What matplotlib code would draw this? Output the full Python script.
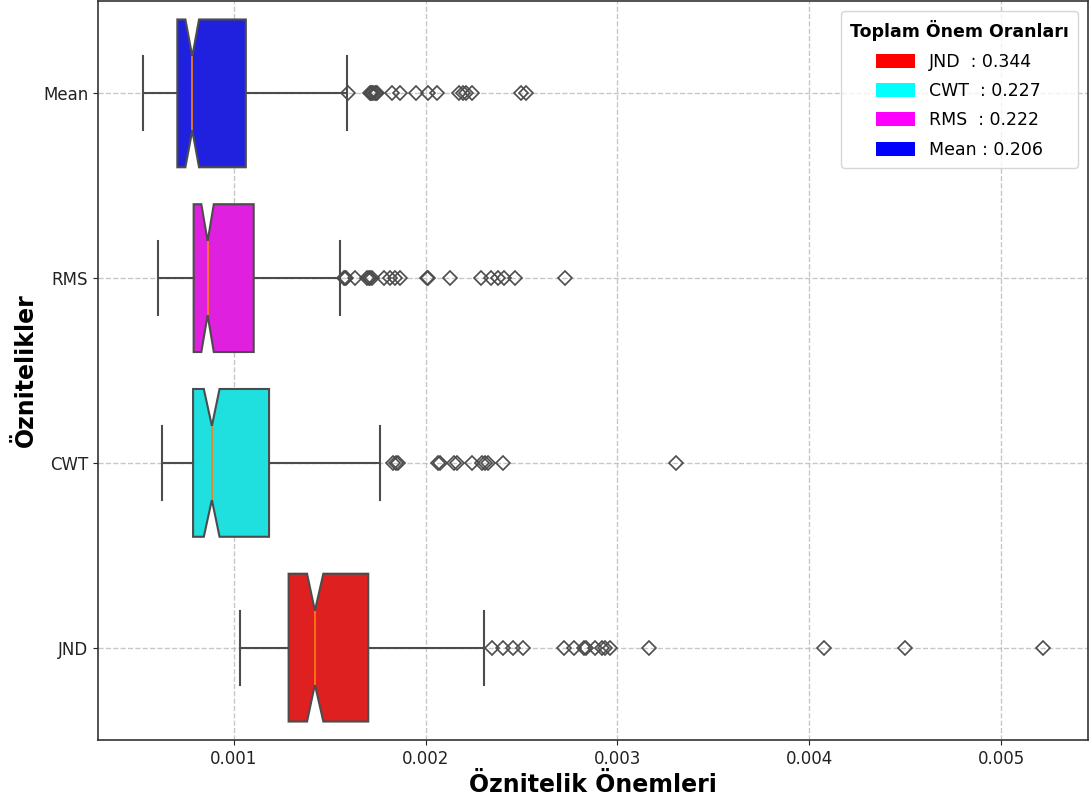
import colorsys
import matplotlib
matplotlib.use("Agg")
import matplotlib.pyplot as plt
from matplotlib.colors import to_rgb
from matplotlib.patches import Patch

# ---------------- data ----------------
categories = ["Mean", "RMS", "CWT", "JND"]
base_colors = ["blue", "magenta", "cyan", "red"]

whislo = [0.000527, 0.000607, 0.000627, 0.001033]
q1 = [0.000706, 0.000791, 0.000788, 0.001286]
median = [0.000784, 0.000864, 0.000886, 0.001423]
q3 = [0.001063, 0.001104, 0.001184, 0.001701]
whishi = [0.001591, 0.001553, 0.001760, 0.002304]
notch_lo = [0.000748, 0.000831, 0.000844, 0.001382]
notch_hi = [0.000819, 0.000896, 0.000926, 0.001467]

fliers_mean = [0.001596, 0.001710, 0.001716, 0.001722, 0.001728, 0.001734,
               0.001740, 0.001749, 0.001826, 0.001866, 0.001952, 0.002010,
               0.002057, 0.002173, 0.002196, 0.002213, 0.002243, 0.002497,
               0.002523]
fliers_rms = [0.001575, 0.001579, 0.001583, 0.001634, 0.001697, 0.001703,
              0.001709, 0.001718, 0.001784, 0.001814, 0.001840, 0.001866,
              0.002005, 0.002013, 0.002126, 0.002288, 0.002343, 0.002375,
              0.002410, 0.002465, 0.002726]
fliers_cwt = [0.001828, 0.001844, 0.001854, 0.002064, 0.002074, 0.002148,
              0.002162, 0.002242, 0.002293, 0.002307, 0.002323, 0.002403,
              0.003305]
fliers_jnd = [0.002346, 0.002402, 0.002457, 0.002506, 0.002719, 0.002771,
              0.002823, 0.002837, 0.002884, 0.002919, 0.002936, 0.002962,
              0.003162, 0.004078, 0.004497, 0.005218]
fliers = [fliers_mean, fliers_rms, fliers_cwt, fliers_jnd]

legend_names = ["JND", "CWT", "RMS", "Mean"]
legend_values = [0.344, 0.227, 0.222, 0.206]
legend_colors = ["red", "cyan", "magenta", "blue"]

legend_title = "Toplam Önem Oranları"
xlabel = "Öznitelik Önemleri"
ylabel = "Öznitelikler"


# ---------------- styling helpers ----------------
def desaturate(c, p):
    r, g, b = to_rgb(c)
    h, l, s = colorsys.rgb_to_hls(r, g, b)
    return colorsys.hls_to_rgb(h, l, s * p)


box_colors = [desaturate(c, 0.75) for c in base_colors]
line_gray = "#4c4c4c"

fig = plt.figure(figsize=(10.89, 8.09), dpi=100)
ax = fig.add_axes([98 / 1089, 1 - 740 / 809, 990 / 1089, 739 / 809])

stats = []
for i, name in enumerate(categories):
    stats.append(dict(label=name, whislo=whislo[i], q1=q1[i], med=median[i],
                      q3=q3[i], whishi=whishi[i], cilo=notch_lo[i],
                      cihi=notch_hi[i], fliers=fliers[i]))

kw = dict(positions=list(range(len(categories))), widths=0.8,
          patch_artist=True, shownotches=True, capwidths=0.4,
          boxprops=dict(edgecolor=line_gray, linewidth=1.5),
          whiskerprops=dict(color=line_gray, linewidth=1.5),
          capprops=dict(color=line_gray, linewidth=1.5),
          medianprops=dict(color="#ff7f0e", linewidth=1.2),
          flierprops=dict(marker="D", markerfacecolor="none",
                          markeredgecolor=line_gray, markersize=7,
                          markeredgewidth=1.2, linestyle="none"))
try:
    res = ax.bxp(stats, orientation="horizontal", **kw)
except TypeError:
    res = ax.bxp(stats, vert=False, **kw)

for patch, col in zip(res["boxes"], box_colors):
    patch.set_facecolor(col)

ax.set_ylim(len(categories) - 0.5, -0.5)
ax.set_yticks(range(len(categories)))
ax.set_yticklabels(categories)
ax.set_xticks([0.001, 0.002, 0.003, 0.004, 0.005])
ax.set_xticklabels(["0.001", "0.002", "0.003", "0.004", "0.005"])
ax.tick_params(labelsize=12, colors="#222222")

ax.set_axisbelow(True)
ax.grid(True, linestyle="--", color="#b0b0b0", alpha=0.7, linewidth=1)
for sp in ax.spines.values():
    sp.set_color("#333333")
    sp.set_linewidth(1.2)

ax.set_xlabel(xlabel, fontsize=17, fontweight="bold")
ax.set_ylabel(ylabel, fontsize=17, fontweight="bold")

handles = [Patch(facecolor=c, label=f"{n.ljust(4)} : {v:.3f}")
           for n, v, c in zip(legend_names, legend_values, legend_colors)]
ax.legend(handles=handles, loc="upper right", title=legend_title,
          fontsize=12.5, title_fontproperties=dict(weight="bold", size=12.5),
          handlelength=2.2, handleheight=0.86, labelspacing=0.66,
          borderpad=0.5, borderaxespad=0.6)

fig.savefig("out.png", dpi=100)
